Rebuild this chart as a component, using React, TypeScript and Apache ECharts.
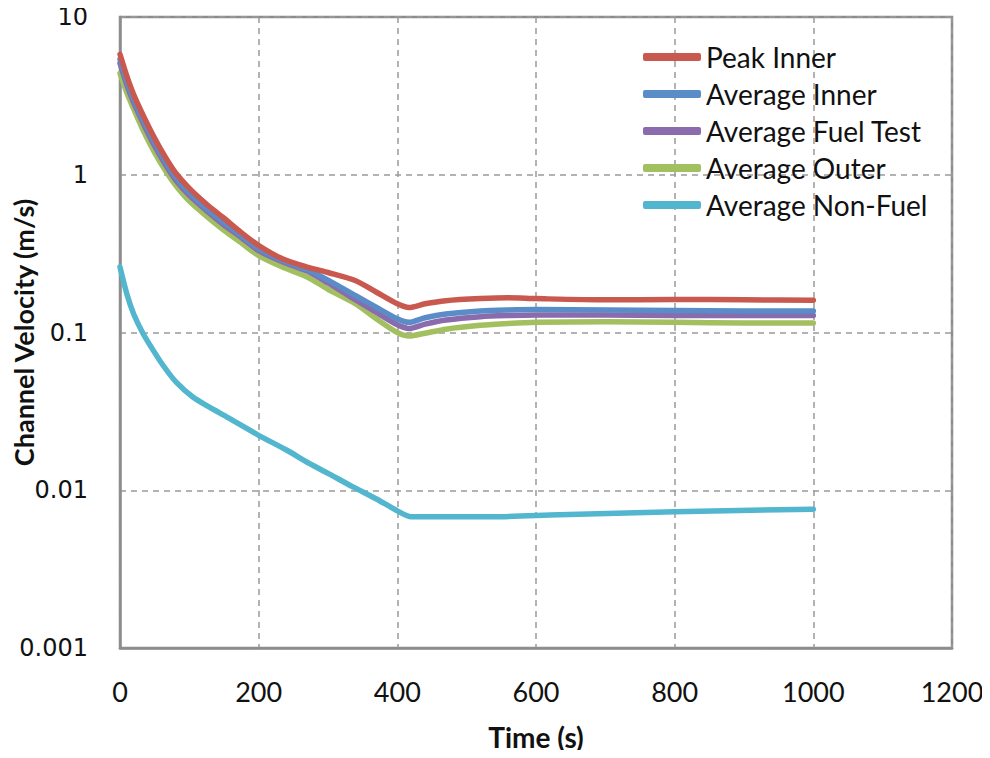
import React, { useEffect, useRef } from "react";
import * as echarts from "echarts";

const times = [0, 10, 20, 35, 50, 65, 80, 100, 125, 150, 175, 200, 235, 270, 300, 340, 370, 400, 417, 440, 470, 520, 560, 600, 700, 800, 900, 1000];

const peakInner = [5.8, 4.2, 3.2, 2.3, 1.7, 1.3, 1.03, 0.82, 0.65, 0.53, 0.43, 0.356, 0.292, 0.26, 0.24, 0.213, 0.18, 0.152, 0.144, 0.152, 0.159, 0.164, 0.166, 0.164, 0.161, 0.162, 0.161, 0.16];
const avgInner = [5.4, 3.9, 3.0, 2.15, 1.6, 1.22, 0.97, 0.77, 0.61, 0.5, 0.41, 0.34, 0.285, 0.25, 0.215, 0.171, 0.144, 0.122, 0.116, 0.124, 0.131, 0.137, 0.139, 0.14, 0.139, 0.138, 0.137, 0.137];
const avgFuelTest = [5.1, 3.7, 2.85, 2.05, 1.52, 1.17, 0.93, 0.74, 0.59, 0.48, 0.4, 0.33, 0.28, 0.245, 0.206, 0.161, 0.134, 0.112, 0.106, 0.113, 0.12, 0.126, 0.128, 0.129, 0.129, 0.128, 0.128, 0.128];
const avgOuter = [4.4, 3.3, 2.6, 1.85, 1.38, 1.07, 0.86, 0.68, 0.545, 0.445, 0.37, 0.307, 0.259, 0.225, 0.188, 0.152, 0.122, 0.1, 0.095, 0.099, 0.105, 0.111, 0.114, 0.116, 0.117, 0.116, 0.115, 0.115];

const nonFuelTimes = [0, 10, 20, 33, 48, 62, 81, 105, 129, 155, 200, 240, 273, 300, 336, 370, 400, 420, 537, 633, 800, 1000];
const avgNonFuel = [0.26, 0.175, 0.13, 0.099, 0.077, 0.062, 0.0484, 0.039, 0.0336, 0.029, 0.0223, 0.018, 0.0148, 0.0128, 0.0105, 0.0088, 0.0074, 0.00678, 0.00678, 0.007, 0.0073, 0.00759];

const seriesNames = ["Peak Inner", "Average Inner", "Average Fuel Test", "Average Outer", "Average Non-Fuel"];
const colors = ["#C9594F", "#5A8CC8", "#8A6BAE", "#A2C05F", "#53B6CF"];

const xTicks = [0, 200, 400, 600, 800, 1000, 1200];
const yTickLabels = ["0.001", "0.01", "0.1", "1", "10"];

export default function App() {
  const ref = useRef<HTMLDivElement>(null);
  useEffect(() => {
    if (!ref.current) return;
    const chart = echarts.init(ref.current, undefined, { renderer: "svg" });
    const pair = (xs: number[], ys: number[]) => xs.map((x, i) => [x, ys[i]]);
    const datasets = [
      pair(times, peakInner),
      pair(times, avgInner),
      pair(times, avgFuelTest),
      pair(times, avgOuter),
      pair(nonFuelTimes, avgNonFuel),
    ];
    const gridColor = "#9a9a9a";
    chart.setOption({
      animation: false,
      color: colors,
      grid: {
        left: 120, top: 17, right: 38, bottom: 110,
        containLabel: false, outerBoundsMode: "none",
        show: true, borderColor: "#8c8c8c", borderWidth: 2.5, backgroundColor: "transparent",
      },
      legend: {
        orient: "vertical",
        left: 638,
        top: 38,
        itemWidth: 58,
        itemHeight: 8,
        itemGap: 9,
        icon: "roundRect",
        textStyle: { fontFamily: "Lato", fontSize: 28, color: "#111" },
        data: seriesNames,
      },
      xAxis: {
        type: "value",
        min: xTicks[0],
        max: xTicks[xTicks.length - 1],
        interval: 200,
        name: "Time (s)",
        nameLocation: "middle",
        nameGap: 75,
        nameMoveOverlap: false,
        nameTextStyle: { fontFamily: "Lato", fontWeight: "bold", fontSize: 28, color: "#111" },
        axisLine: { show: true, lineStyle: { color: "#8c8c8c", width: 2.5 } },
        axisTick: { show: false },
        axisLabel: { fontFamily: "Lato", fontSize: 27, color: "#111", margin: 30, formatter: (v: number) => String(v) },
        splitLine: { show: true, lineStyle: { color: gridColor, width: 1.5, type: [6, 5] } },
      },
      yAxis: {
        type: "log",
        logBase: 10,
        min: 0.001,
        max: 10,
        name: "Channel Velocity (m/s)",
        nameLocation: "middle",
        nameGap: 83,
        nameMoveOverlap: false,
        nameTextStyle: { fontFamily: "Lato", fontWeight: "bold", fontSize: 27, color: "#111" },
        axisLine: { show: true, lineStyle: { color: "#8c8c8c", width: 2.5 } },
        axisTick: { show: false },
        axisLabel: {
          fontFamily: "DejaVu Sans",
          fontSize: 24,
          color: "#111",
          margin: 32,
          formatter: (v: number) => {
            const e = Math.round(Math.log10(v));
            return yTickLabels[e + 3] ?? String(v);
          },
        },
        splitLine: { show: true, lineStyle: { color: gridColor, width: 1.5, type: [6, 5] } },
      },
      series: datasets.map((d, i) => ({
        name: seriesNames[i],
        type: "line",
        data: d,
        symbol: "none",
        smooth: 0.25,
        lineStyle: { width: 5.5, color: colors[i], cap: "round", join: "round" },
        itemStyle: { color: colors[i] },
        z: 10 - i,
      })),
    });
    return () => chart.dispose();
  }, []);
  return <div ref={ref} style={{ width: 990, height: 758, margin: -8 }} />;
}
